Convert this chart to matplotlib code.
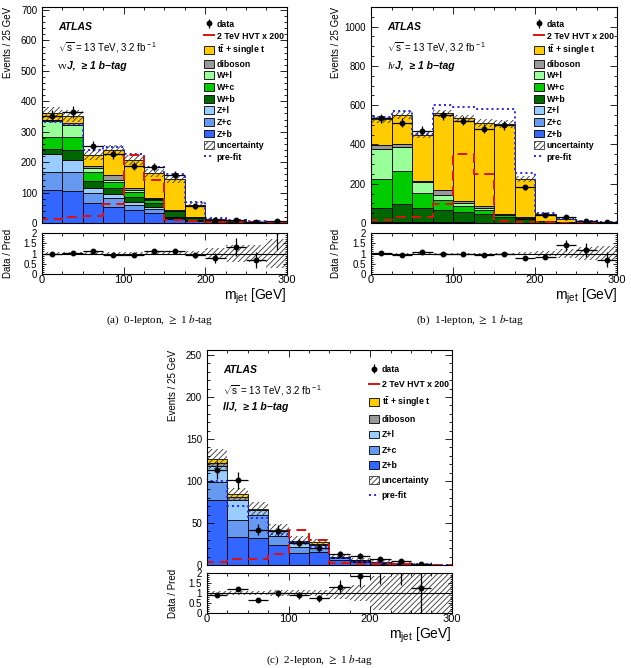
import matplotlib.pyplot as plt
import numpy as np
from matplotlib.patches import Patch
from matplotlib.lines import Line2D
from matplotlib.ticker import MultipleLocator, FuncFormatter

plt.rcParams['font.family'] = ['Liberation Sans', 'DejaVu Sans']
plt.rcParams['mathtext.fontset'] = 'custom'
plt.rcParams['mathtext.rm'] = 'Liberation Sans'
plt.rcParams['mathtext.it'] = 'Liberation Sans:italic'
plt.rcParams['mathtext.bf'] = 'Liberation Sans:bold'
plt.rcParams['hatch.linewidth'] = 0.6

# m_jet binning (GeV)
bin_edges = np.arange(0, 325, 25)

# ---- (a) 0-lepton ----
zb_a = [107, 106, 67, 54, 43, 32, 13, 8, 3, 2, 1, 0.5]
zc_a = [62, 62, 32, 27, 16, 13, 4, 2, 1, 0.5, 0.3, 0.2]
zl_a = [58, 38, 16, 14, 11, 9, 4, 1, 0.5, 0.3, 0.2, 0.1]
wb_a = [15, 35, 23, 19, 17, 11, 18, 7, 2, 1, 0.5, 0.3]
wc_a = [42, 42, 30, 20, 16, 11, 1, 1, 0.5, 0.3, 0.2, 0.1]
wl_a = [52, 39, 14, 7, 5, 3, 1, 0.5, 0.3, 0.2, 0.1, 0.1]
db_a = [4, 5, 5, 18, 8, 2, 2, 1, 0.5, 0.3, 0.2, 0.1]
tt_a = [20, 25, 38, 80, 91, 84, 100, 40, 6, 3, 2, 1]
data_a = [351, 365, 253, 226, 188, 185, 158, 55, 11, 10, 3, 5]
unc_a = [20, 20, 18, 18, 15, 14, 12, 7, 4, 3, 1.8, 1.7]
prefit_a = [333, 325, 240, 250, 228, 184, 160, 68, 15, 9, 5, 3]
signal_a = [14, 20, 22, 62, 223, 141, 10, 6, 3, 2, 2, 1]

# ---- (b) 1-lepton ----
zb_b = [3, 3, 2, 2, 2, 1, 1, 1, 0.3, 0.2, 0.1, 0.1]
zc_b = [1, 1, 1, 1, 1, 0.5, 0.5, 0.5, 0.2, 0.1, 0.1, 0.05]
zl_b = [1, 1, 1, 1, 1, 0.5, 0.5, 0.5, 0.2, 0.1, 0.1, 0.05]
wb_b = [73, 94, 74, 64, 52, 46, 29, 20, 7.3, 3.6, 1.7, 0.8]
wc_b = [148, 166, 75, 48, 29, 20, 8, 5, 2, 1, 0.5, 0.3]
wl_b = [153, 123, 56, 25, 17, 10, 5, 2, 1, 0.5, 0.3, 0.2]
db_b = [17, 13, 5, 26, 10, 9, 4, 2, 1, 0.5, 0.3, 0.2]
tt_b = [131, 148, 233, 391, 420, 420, 455, 195, 34, 14, 7, 4]
data_b = [532, 510, 470, 549, 520, 481, 498, 181, 39, 28, 12, 4]
unc_b = [18, 20, 15, 18, 20, 20, 20, 15, 5, 4, 3, 2]
prefit_b = [542, 571, 452, 600, 592, 578, 578, 255, 51, 22, 12, 7]
signal_b = [15, 30, 32, 95, 350, 248, 10, 5, 3, 2, 1, 1]

# ---- (c) 2-lepton ----
zb_c = [77, 33, 32, 24, 14, 15, 6, 3, 1.5, 1, 0.4, 0.2]
zc_c = [22, 20, 28, 11, 7, 5, 2, 1.5, 0.7, 0.5, 0.2, 0.1]
zl_c = [19, 24, 5, 5, 6, 4, 1, 0.5, 0.3, 0.2, 0.1, 0.1]
db_c = [4, 4, 1, 1, 1, 1, 0.5, 0.5, 0.3, 0.1, 0.05, 0.05]
tt_c = [4, 3, 1, 1, 1, 2, 0.5, 0.5, 0.2, 0.2, 0.05, 0.05]
data_c = [113, 101, 42, 41, 26, 20, 13, 11, 7, 5, 1, 0]
unc_c = [12, 8, 8, 7, 5, 4, 3, 2.5, 2.5, 2, 1, 1]
prefit_c = [100, 70, 56, 37, 27, 22, 8, 4, 2, 1.5, 0.6, 0.4]
signal_c = [3, 7, 7, 13, 42, 30, 2, 1, 1, 1, 0.5, 0.5]

colors = {
    'Z+b': '#3366ff', 'Z+c': '#6699f0', 'Z+l': '#99ccff',
    'W+b': '#006600', 'W+c': '#00cc00', 'W+l': '#99ff99',
    'diboson': '#999999', 'ttbar': '#ffcc00',
}
tt_label = r'$\mathbf{t\bar{t}}$ + single t'


def draw_panel(ax, rax, stack, data, unc, prefit, signal, ymax, major, minor,
               channel_prefix, channel_rest, prefix_style, legend_top, legend_space):
    width = np.diff(bin_edges)
    left = bin_edges[:-1]
    centers = left + width / 2
    total = np.zeros(len(left))
    for name, vals in stack:
        ax.bar(left, vals, width=width, bottom=total, align='edge',
               color=colors[name], edgecolor='black', linewidth=0.6)
        total = total + np.array(vals)

    unc = np.array(unc)
    ax.bar(left, 2 * unc, width=width, bottom=total - unc, align='edge',
           facecolor='none', edgecolor='#333333', hatch='//////', linewidth=0)
    ax.stairs(prefit, bin_edges, color='#2222ff', linestyle=':', linewidth=1.4)
    ax.stairs(signal, bin_edges, color='#dd1111', linestyle=(0, (5, 3)), linewidth=1.4)

    data = np.array(data, dtype=float)
    ok = data > 0
    ax.errorbar(centers[ok], data[ok], xerr=12.5, yerr=np.sqrt(data[ok]), fmt='o',
                color='black', markersize=3.2, elinewidth=0.9, capsize=0)

    ax.set_xlim(0, 300)
    ax.set_ylim(0, ymax)
    ax.yaxis.set_major_locator(MultipleLocator(major))
    ax.yaxis.set_minor_locator(MultipleLocator(minor))
    ax.xaxis.set_major_locator(MultipleLocator(100))
    ax.xaxis.set_minor_locator(MultipleLocator(25))
    ax.set_xticklabels([])
    ax.set_ylabel('Events / 25 GeV', loc='top', fontsize=7)
    ax.yaxis.set_label_coords(-0.12, 1.0)

    ax.text(0.065, 0.905, 'ATLAS', transform=ax.transAxes, fontsize=7.5,
            weight='bold', style='italic', va='center')
    ax.text(0.065, 0.81, r'$\sqrt{\rm s}$ = 13 TeV, 3.2 fb$^{\rm -1}$',
            transform=ax.transAxes, fontsize=7, va='center')
    t = ax.text(0.065, 0.713, channel_prefix, transform=ax.transAxes, fontsize=7.5,
                family='Liberation Serif', style=prefix_style, va='baseline')
    ax.annotate(channel_rest, xy=(1, 0), xycoords=t, fontsize=7.5, weight='bold',
                style='italic', va='bottom')

    # legend
    handles = [ax.errorbar([], [], yerr=[], fmt='o', color='black', markersize=3.2,
                           elinewidth=0.9),
               Line2D([], [], color='#dd1111', linewidth=1.4)]
    labels = ['data', '2 TeV HVT x 200']
    legend_order = ['ttbar', 'diboson', 'W+l', 'W+c', 'W+b', 'Z+l', 'Z+c', 'Z+b']
    names = [n for n, _ in stack]
    for name in legend_order:
        if name in names:
            handles.append(Patch(facecolor=colors[name], edgecolor='black', linewidth=0.6))
            labels.append(tt_label if name == 'ttbar' else name)
    handles.append(Patch(facecolor='white', edgecolor='#333333', hatch='//////', linewidth=0.6))
    labels.append('uncertainty')
    handles.append(Line2D([], [], color='#2222ff', linestyle=':', linewidth=1.4))
    labels.append('pre-fit')
    ax.legend(handles, labels, loc='upper left', bbox_to_anchor=(0.662, legend_top),
              frameon=False, prop={'weight': 'bold', 'size': 6.3},
              handlelength=1.1, handleheight=1.0, handletextpad=0.35,
              labelspacing=legend_space, borderpad=0, borderaxespad=0)

    # ratio
    ratio = data / total
    rel = unc / total
    rax.bar(left, 2 * rel, width=width, bottom=1 - rel, align='edge',
            facecolor='none', edgecolor='#333333', hatch='//////', linewidth=0)
    rax.axhline(1, color='black', linewidth=0.8)
    rax.errorbar(centers[ok], ratio[ok], xerr=12.5, yerr=np.sqrt(data[ok]) / total[ok],
                 fmt='o', color='black', markersize=3.2, elinewidth=0.9, capsize=0)
    rax.set_xlim(0, 300)
    rax.set_ylim(0, 2)
    rax.yaxis.set_major_locator(MultipleLocator(0.5))
    rax.yaxis.set_minor_locator(MultipleLocator(0.1))
    rax.yaxis.set_major_formatter(FuncFormatter(lambda v, _: f'{v:g}'))
    rax.xaxis.set_major_locator(MultipleLocator(100))
    rax.xaxis.set_minor_locator(MultipleLocator(25))
    rax.set_ylabel('Data / Pred', fontsize=7)
    rax.yaxis.set_label_coords(-0.12, 0.5)
    rax.set_xlabel(r'm$_{\rm jet}$ [GeV]', loc='right', fontsize=10, labelpad=1)

    for a in (ax, rax):
        a.tick_params(which='both', direction='in', top=True, right=True, labelsize=7)
        a.tick_params(which='major', length=5, width=0.6)
        a.tick_params(which='minor', length=2.5, width=0.6)
        for s in a.spines.values():
            s.set_linewidth(0.8)
    rax.tick_params(axis='y', which='major', length=3)
    rax.tick_params(axis='y', which='minor', length=1.5)
    rax.tick_params(axis='x', labelsize=8, pad=1)


fig = plt.figure(figsize=(6.31, 6.68), dpi=100)

ax_a = fig.add_axes([0.0666, 0.6662, 0.388, 0.3234])
rax_a = fig.add_axes([0.0666, 0.5898, 0.388, 0.0614])
ax_b = fig.add_axes([0.588, 0.6662, 0.39, 0.3234])
rax_b = fig.add_axes([0.588, 0.5898, 0.39, 0.0614])
ax_c = fig.add_axes([0.328, 0.1542, 0.388, 0.3219])
rax_c = fig.add_axes([0.328, 0.0823, 0.388, 0.0599])

stack_a = [('Z+b', zb_a), ('Z+c', zc_a), ('Z+l', zl_a), ('W+b', wb_a), ('W+c', wc_a),
           ('W+l', wl_a), ('diboson', db_a), ('ttbar', tt_a)]
stack_b = [('Z+b', zb_b), ('Z+c', zc_b), ('Z+l', zl_b), ('W+b', wb_b), ('W+c', wc_b),
           ('W+l', wl_b), ('diboson', db_b), ('ttbar', tt_b)]
stack_c = [('Z+b', zb_c), ('Z+c', zc_c), ('Z+l', zl_c), ('diboson', db_c), ('ttbar', tt_c)]

draw_panel(ax_a, rax_a, stack_a, data_a, unc_a, prefit_a, signal_a, 710, 100, 20,
           '\u03bd\u03bd', 'J,  \u2265 1 b\u2212tag', 'normal', 0.94, 0.3)
draw_panel(ax_b, rax_b, stack_b, data_b, unc_b, prefit_b, signal_b, 1100, 200, 50,
           'l\u03bd', 'J,  \u2265 1 b\u2212tag', 'italic', 0.94, 0.3)
draw_panel(ax_c, rax_c, stack_c, data_c, unc_c, prefit_c, signal_c, 256, 50, 10,
           '', 'llJ,  \u2265 1 b\u2212tag', 'normal', 0.93, 0.7)

fig.text(0.2536, 0.521, r'(a)  0-lepton, $\geq$ 1 $b$-tag', family='Liberation Serif',
         math_fontfamily='stix', ha='center', va='center', fontsize=8)
fig.text(0.745, 0.521, r'(b)  1-lepton, $\geq$ 1 $b$-tag', family='Liberation Serif',
         math_fontfamily='stix', ha='center', va='center', fontsize=8)
fig.text(0.507, 0.012, r'(c)  2-lepton, $\geq$ 1 $b$-tag', family='Liberation Serif',
         math_fontfamily='stix', ha='center', va='center', fontsize=8)

fig.savefig('out.png', dpi=100)
